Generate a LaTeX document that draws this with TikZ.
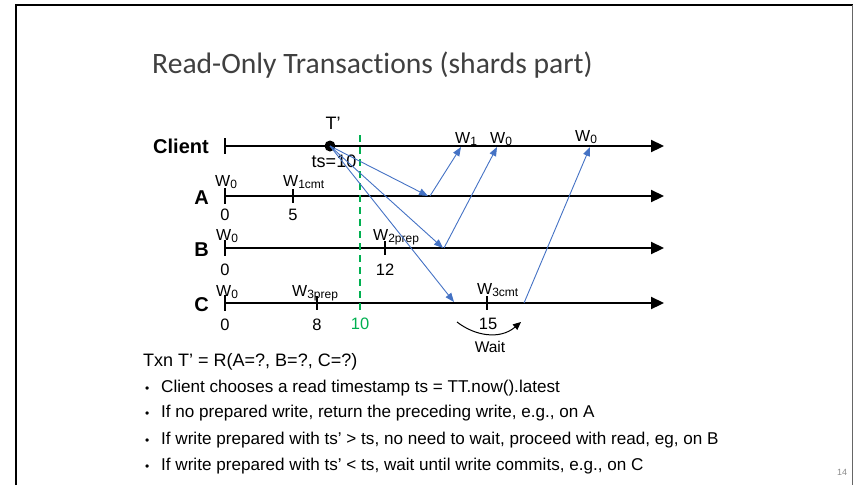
\documentclass[tikz,border=0pt]{standalone}
\usepackage{fontspec}
\setmainfont{Liberation Sans}
\newfontfamily\titlefont[Ligatures={NoCommon,NoDiscretionary}]{Carlito}
\usetikzlibrary{arrows.meta}

\definecolor{msgblue}{HTML}{4472C4}
\definecolor{nowgreen}{HTML}{00B050}

% lowered subscript as used in the write labels
\newcommand{\lowsub}[1]{\raisebox{-0.35ex}{\fontsize{12}{12}\selectfont #1}}

\begin{document}
\begin{tikzpicture}[x=1pt, y=-1pt,
  lane/.style={line width=2.2pt, -{Triangle[length=13pt,width=12pt]}},
  tick/.style={line width=2.4pt},
  msg/.style={draw=msgblue, line width=0.9pt, -{Triangle[length=9pt,width=7pt]}},
  lanename/.style={font=\fontsize{20}{20}\selectfont\bfseries, inner sep=0pt, anchor=base east},
  wlbl/.style={font=\fontsize{16}{16}\selectfont, inner sep=0pt, anchor=base west},
  num/.style={font=\fontsize{16.5}{16.5}\selectfont, inner sep=0pt, anchor=base},
  point/.style={font=\fontsize{17.1}{17.1}\selectfont, inner sep=0pt, anchor=base west}]
  \useasboundingbox (0,0) rectangle (853,485);

  % slide frame
  \draw[line width=2.5pt] (16,485) -- (16,5) -- (853,5);
  \draw[black!60, line width=0.8pt] (852,5) -- (852,485);

  \node[font=\titlefont\fontsize{29.6}{30}\selectfont, text=black!75, inner sep=0pt, anchor=base west]
    (title) at (152,73) {Read-Only Transactions (shards part)};

  % time lines
  \foreach \name/\y in {client/146, A/196, B/248, C/303} {
    \coordinate (\name-start) at (225,\y);
    \coordinate (\name-end) at (664,\y);
    \draw[lane] (\name-start) -- (\name-end);
    \draw[tick] (\name-start) ++(0,-8) -- ++(0,16);
  }
  \foreach \name/\x in {A/293, B/385, C/317, C/487}
    \draw[tick] (\x,0 |- \name-start) ++(0,-7) -- ++(0,14);

  \node[lanename] (lbl-client) at (209,153) {Client};
  \node[lanename] (lbl-A) at (209,204) {A};
  \node[lanename] (lbl-B) at (209,256) {B};
  \node[lanename] (lbl-C) at (209,311) {C};

  % read timestamp
  \draw[nowgreen, line width=2.2pt, dash pattern=on 7pt off 5pt] (360,135) coordinate (now-top) -- (360,314) coordinate (now-bot);
  \node[num, text=nowgreen] (now) at (360,329) {10};

  \node[circle, fill, inner sep=0pt, minimum size=11pt] (T) at (330,146) {};
  \node[num, font=\fontsize{18}{18}\selectfont] (T-name) at (333,129) {T’};
  \node[num, font=\fontsize{18}{18}\selectfont] (T-ts) at (334,167) {ts=10};

  % writes on A
  \node[wlbl] (A-w0) at (215,186) {W\lowsub{0}};
  \node[wlbl] (A-w1) at (283,186) {W\lowsub{1cmt}};
  \node[num] (A-t0) at (225,220) {0};
  \node[num] (A-t1) at (293,220) {5};

  % writes on B
  \node[wlbl] (B-w0) at (216,240) {W\lowsub{0}};
  \node[wlbl] (B-w2) at (373,240) {W\lowsub{2prep}};
  \node[num] (B-t0) at (225,275) {0};
  \node[num] (B-t2) at (385,275) {12};

  % writes on C
  \node[wlbl] (C-w0) at (216,296) {W\lowsub{0}};
  \node[wlbl] (C-w3p) at (292,296) {W\lowsub{3prep}};
  \node[wlbl] (C-w3c) at (477,294) {W\lowsub{3cmt}};
  \node[num] (C-t0) at (225,330) {0};
  \node[num] (C-t1) at (317,330) {8};
  \node[num] (C-t2) at (488,329) {15};

  % read requests and replies
  \coordinate (A-in) at (428,196);
  \coordinate (B-in) at (443,248);
  \coordinate (C-in) at (454,302);
  \coordinate (A-out) at (430,196);
  \coordinate (B-out) at (444,248);
  \coordinate (C-out) at (524,303);
  \coordinate (r1) at (461,147);
  \coordinate (r2) at (497,147);
  \coordinate (r3) at (590,147);
  \draw[msg] (T.center) -- (A-in);
  \draw[msg] (T.center) -- (B-in);
  \draw[msg] (T.center) -- (C-in);
  \draw[msg] (A-out) -- (r1);
  \draw[msg] (B-out) -- (r2);
  \draw[msg] (C-out) -- (r3);

  \node[wlbl] (got1) at (455,143) {W\lowsub{1}};
  \node[wlbl] (got2) at (490,143) {W\lowsub{0}};
  \node[wlbl] (got3) at (575,141) {W\lowsub{0}};

  % waiting on C
  \coordinate (wait-start) at (457,322);
  \coordinate (wait-end) at (521,322);
  \draw[line width=1pt, -{Triangle[length=8pt,width=7pt]}] (wait-start) .. controls (475,336) and (500,340) .. (wait-end);
  \node[num, font=\fontsize{15.5}{15.5}\selectfont] (wait) at (490,352) {Wait};

  % explanation
  \node[point, font=\fontsize{18}{18}\selectfont] (txn) at (143,366) {Txn T’ = R(A=?, B=?, C=?)};
  \node[point] (p1) at (145,392) {\makebox[16pt][l]{\fontsize{12}{12}\selectfont\textbullet}Client chooses a read timestamp ts = TT.now().latest};
  \node[point] (p2) at (145,417) {\makebox[16pt][l]{\fontsize{12}{12}\selectfont\textbullet}If no prepared write, return the preceding write, e.g., on A};
  \node[point] (p3) at (145,444) {\makebox[16pt][l]{\fontsize{12}{12}\selectfont\textbullet}If write prepared with ts’ > ts, no need to wait, proceed with read, eg, on B};
  \node[point] (p4) at (145,470) {\makebox[16pt][l]{\fontsize{12}{12}\selectfont\textbullet}If write prepared with ts’ < ts, wait until write commits, e.g., on C};

  \node[font=\fontsize{9}{9}\selectfont, text=black!45, inner sep=0pt, anchor=base] (page) at (842,475) {14};
\end{tikzpicture}
\end{document}
